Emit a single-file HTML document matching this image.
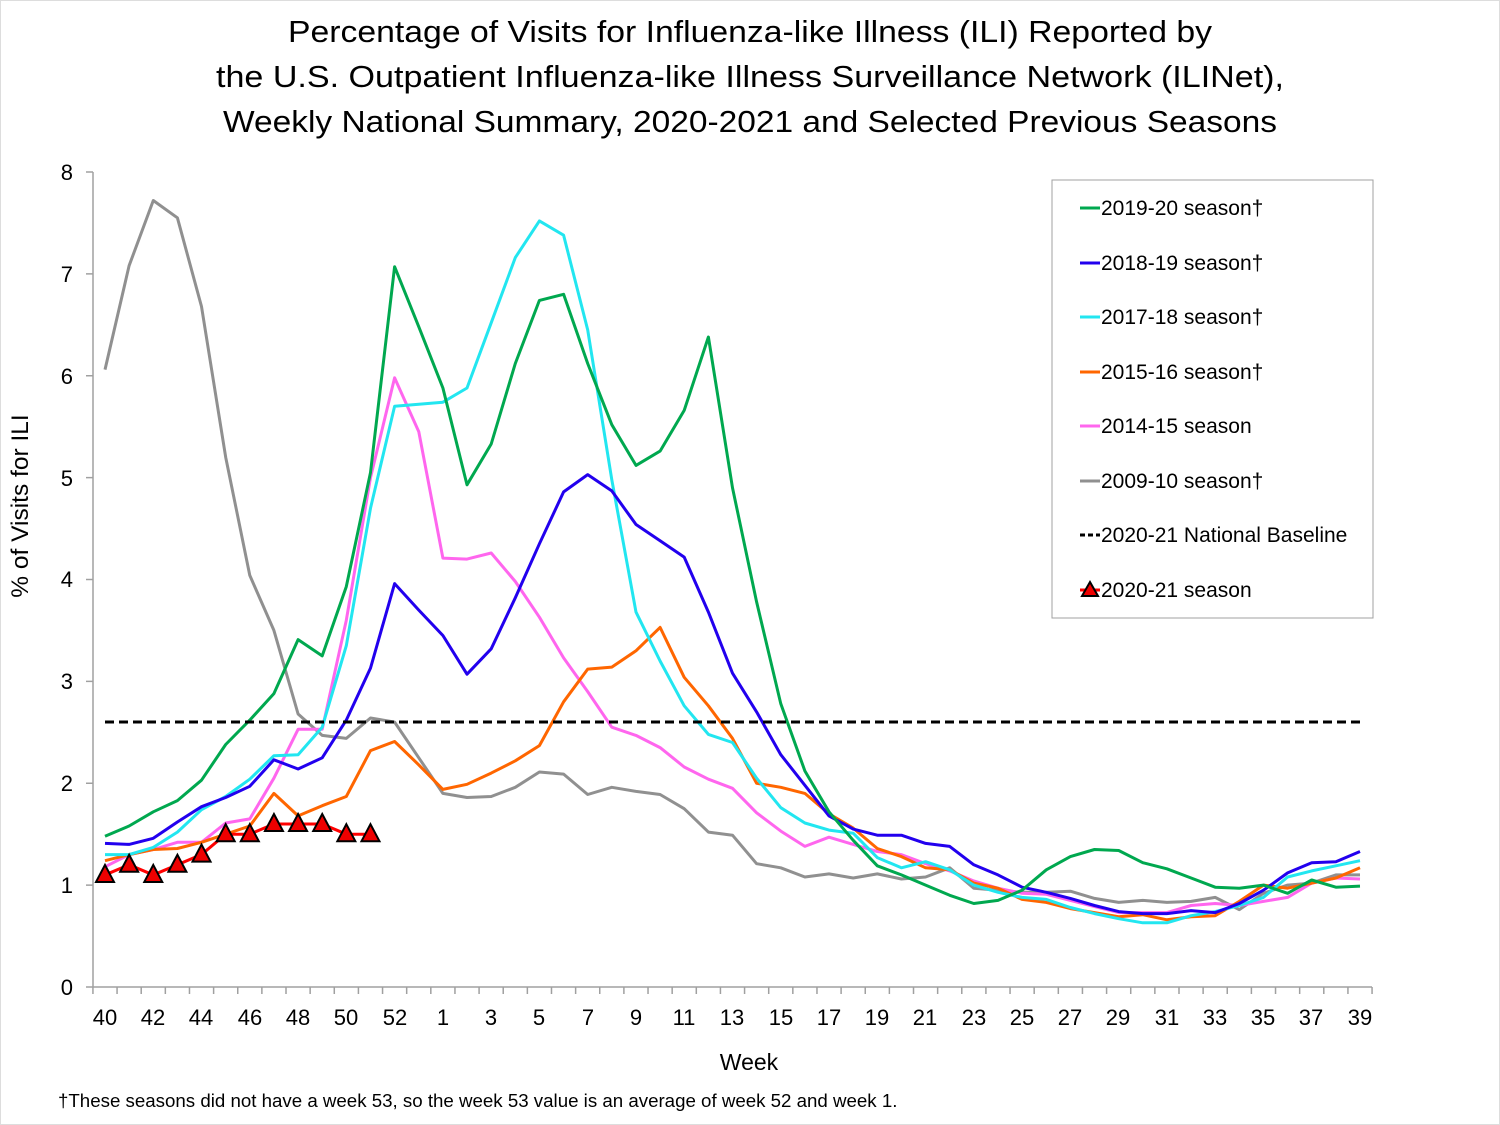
<!DOCTYPE html>
<html><head><meta charset="utf-8"><style>
body{margin:0;background:#fff;}
svg{display:block;font-family:"Liberation Sans",sans-serif;}
</style></head><body>
<svg id="s" width="1500" height="1125" viewBox="0 0 1500 1125" xmlns="http://www.w3.org/2000/svg">
<rect x="0" y="0" width="1500" height="1125" fill="#fff"/>
<rect x="0.5" y="0.5" width="1499" height="1124" fill="none" stroke="#ddd"/>
<g font-size="31" text-anchor="middle" fill="#000">
<text x="750" y="42" textLength="924" lengthAdjust="spacingAndGlyphs">Percentage of Visits for Influenza-like Illness (ILI) Reported by</text>
<text x="750" y="87" textLength="1068" lengthAdjust="spacingAndGlyphs">the U.S. Outpatient Influenza-like Illness Surveillance Network (ILINet),</text>
<text x="750" y="132" textLength="1054" lengthAdjust="spacingAndGlyphs">Weekly National Summary, 2020-2021 and Selected Previous Seasons</text>
</g>
<g id="axes" stroke="#a0a0a0" stroke-width="1.5" fill="none">
<line x1="93" y1="172" x2="93" y2="987"/>
<line x1="93" y1="987" x2="1372" y2="987"/>
</g>
<g font-size="22" text-anchor="end" fill="#000">
<text x="73" y="995">0</text><text x="73" y="893">1</text><text x="73" y="791">2</text><text x="73" y="689">3</text><text x="73" y="587">4</text><text x="73" y="486">5</text><text x="73" y="384">6</text><text x="73" y="282">7</text><text x="73" y="180">8</text>
</g>
<g font-size="22" text-anchor="middle" fill="#000">
<text x="105" y="1025">40</text><text x="153" y="1025">42</text><text x="201" y="1025">44</text><text x="250" y="1025">46</text><text x="298" y="1025">48</text><text x="346" y="1025">50</text><text x="395" y="1025">52</text><text x="443" y="1025">1</text><text x="491" y="1025">3</text><text x="539" y="1025">5</text><text x="588" y="1025">7</text><text x="636" y="1025">9</text><text x="684" y="1025">11</text><text x="732" y="1025">13</text><text x="781" y="1025">15</text><text x="829" y="1025">17</text><text x="877" y="1025">19</text><text x="925" y="1025">21</text><text x="974" y="1025">23</text><text x="1022" y="1025">25</text><text x="1070" y="1025">27</text><text x="1118" y="1025">29</text><text x="1167" y="1025">31</text><text x="1215" y="1025">33</text><text x="1263" y="1025">35</text><text x="1311" y="1025">37</text><text x="1360" y="1025">39</text>
<text x="749" y="1070" font-size="23">Week</text>
</g>
<text transform="translate(28,506) rotate(-90)" font-size="24.5" text-anchor="middle">% of Visits for ILI</text>
<text x="58" y="1107" font-size="18.7">†These seasons did not have a week 53, so the week 53 value is an average of week 52 and week 1.</text>
<g id="series" fill="none" stroke-width="3" stroke-linejoin="round"></g>
<line x1="105" y1="722" x2="1360" y2="722" stroke="#000" stroke-width="3" stroke-dasharray="9,5"/>
<g id="red"></g>
<rect x="1052" y="180" width="321" height="438" fill="#fff" stroke="#a0a0a0" stroke-width="1"/>
<g font-size="21" fill="#000">
<line x1="1080" y1="208" x2="1100" y2="208" stroke="#00a84f" stroke-width="3"/><text x="1101" y="215">2019-20 season†</text>
<line x1="1080" y1="263" x2="1100" y2="263" stroke="#2200ee" stroke-width="3"/><text x="1101" y="270">2018-19 season†</text>
<line x1="1080" y1="317" x2="1100" y2="317" stroke="#22e6f0" stroke-width="3"/><text x="1101" y="324">2017-18 season†</text>
<line x1="1080" y1="372" x2="1100" y2="372" stroke="#ff6600" stroke-width="3"/><text x="1101" y="379">2015-16 season†</text>
<line x1="1080" y1="426" x2="1100" y2="426" stroke="#ff66ee" stroke-width="3"/><text x="1101" y="433">2014-15 season</text>
<line x1="1080" y1="481" x2="1100" y2="481" stroke="#909090" stroke-width="3"/><text x="1101" y="488">2009-10 season†</text>
<line x1="1080" y1="535" x2="1100" y2="535" stroke="#000" stroke-width="3" stroke-dasharray="5,3"/><text x="1101" y="542">2020-21 National Baseline</text>
<line x1="1080" y1="590" x2="1100" y2="590" stroke="#f00" stroke-width="3"/><polygon points="1090,582 1098,596 1082,596" fill="#e00" stroke="#000" stroke-width="2"/><text x="1101" y="597">2020-21 season</text>
</g>
</svg>
<script>
var NS="http://www.w3.org/2000/svg";
function X(i){return 105+i*1255/52;}
function Y(v){return 987-v*101.875;}
var S=[
["#909090",[6.06,7.08,7.72,7.55,6.68,5.20,4.04,3.50,2.68,2.47,2.44,2.64,2.60,2.25,1.90,1.86,1.87,1.96,2.11,2.09,1.89,1.96,1.92,1.89,1.75,1.52,1.49,1.21,1.17,1.08,1.11,1.07,1.11,1.06,1.08,1.17,0.97,0.95,0.93,0.93,0.94,0.87,0.83,0.85,0.83,0.84,0.88,0.76,0.92,1.00,1.02,1.10,1.10]],
["#ff66ee",[1.18,1.30,1.35,1.42,1.42,1.61,1.65,2.05,2.53,2.53,3.60,5.00,5.98,5.45,4.21,4.20,4.26,3.98,3.63,3.23,2.90,2.55,2.47,2.35,2.16,2.04,1.95,1.71,1.53,1.38,1.47,1.40,1.33,1.30,1.21,1.14,1.04,0.97,0.92,0.91,0.85,0.79,0.73,0.73,0.73,0.80,0.82,0.80,0.84,0.88,1.02,1.07,1.06]],
["#ff6600",[1.24,1.30,1.35,1.36,1.42,1.50,1.58,1.90,1.68,1.78,1.87,2.32,2.41,2.18,1.94,1.99,2.10,2.22,2.37,2.80,3.12,3.14,3.30,3.53,3.04,2.76,2.44,2.00,1.96,1.90,1.70,1.56,1.36,1.28,1.17,1.15,1.02,0.97,0.86,0.83,0.77,0.73,0.69,0.71,0.66,0.69,0.70,0.84,1.00,0.97,1.02,1.07,1.17]],
["#22e6f0",[1.30,1.30,1.37,1.52,1.74,1.87,2.04,2.27,2.28,2.55,3.35,4.70,5.70,5.72,5.74,5.88,6.52,7.16,7.52,7.38,6.45,4.98,3.68,3.20,2.76,2.48,2.40,2.05,1.76,1.61,1.54,1.51,1.27,1.17,1.23,1.15,1.00,0.93,0.88,0.86,0.78,0.72,0.67,0.63,0.63,0.70,0.74,0.80,0.88,1.08,1.14,1.19,1.24]],
["#2200ee",[1.41,1.40,1.46,1.62,1.77,1.86,1.97,2.23,2.14,2.25,2.62,3.13,3.96,3.70,3.45,3.07,3.32,3.82,4.35,4.86,5.03,4.87,4.54,4.38,4.22,3.68,3.08,2.70,2.28,1.98,1.68,1.55,1.49,1.49,1.41,1.38,1.20,1.10,0.98,0.93,0.87,0.80,0.74,0.72,0.72,0.75,0.73,0.82,0.95,1.12,1.22,1.23,1.33]],
["#00a84f",[1.48,1.58,1.72,1.83,2.03,2.38,2.62,2.88,3.41,3.25,3.93,5.05,7.07,6.48,5.88,4.93,5.33,6.12,6.74,6.80,6.12,5.52,5.12,5.26,5.66,6.38,4.90,3.78,2.78,2.12,1.72,1.44,1.19,1.10,1.00,0.90,0.82,0.85,0.95,1.15,1.28,1.35,1.34,1.22,1.16,1.07,0.98,0.97,1.00,0.92,1.05,0.98,0.99]]
];
var g=document.getElementById("series");
S.forEach(function(s){var p=document.createElementNS(NS,"polyline");
p.setAttribute("points",s[1].map(function(v,i){return X(i).toFixed(1)+","+Y(v).toFixed(1);}).join(" "));
p.setAttribute("stroke",s[0]);g.appendChild(p);});
var ax=document.getElementById("axes");
for(var i=0;i<=53;i++){var x=105+(i-0.5)*1255/52;var l=document.createElementNS(NS,"line");l.setAttribute("x1",x);l.setAttribute("x2",x);l.setAttribute("y1",987);l.setAttribute("y2",994);ax.appendChild(l);}
for(var k=0;k<=8;k++){var l=document.createElementNS(NS,"line");l.setAttribute("x1",86);l.setAttribute("x2",93);l.setAttribute("y1",Y(k));l.setAttribute("y2",Y(k));ax.appendChild(l);}
var R=[1.1,1.2,1.1,1.2,1.3,1.5,1.5,1.6,1.6,1.6,1.5,1.5];var rg=document.getElementById("red");
var p=document.createElementNS(NS,"polyline");p.setAttribute("points",R.map(function(v,i){return X(i)+","+Y(v);}).join(" "));
p.setAttribute("fill","none");p.setAttribute("stroke","#f00");p.setAttribute("stroke-width","3");rg.appendChild(p);
R.forEach(function(v,i){var x=X(i),y=Y(v);var t=document.createElementNS(NS,"polygon");
t.setAttribute("points",x+","+(y-10)+" "+(x+9)+","+(y+7)+" "+(x-9)+","+(y+7));t.setAttribute("fill","#e00");t.setAttribute("stroke","#000");t.setAttribute("stroke-width","2");rg.appendChild(t);});
</script>
</body></html>
